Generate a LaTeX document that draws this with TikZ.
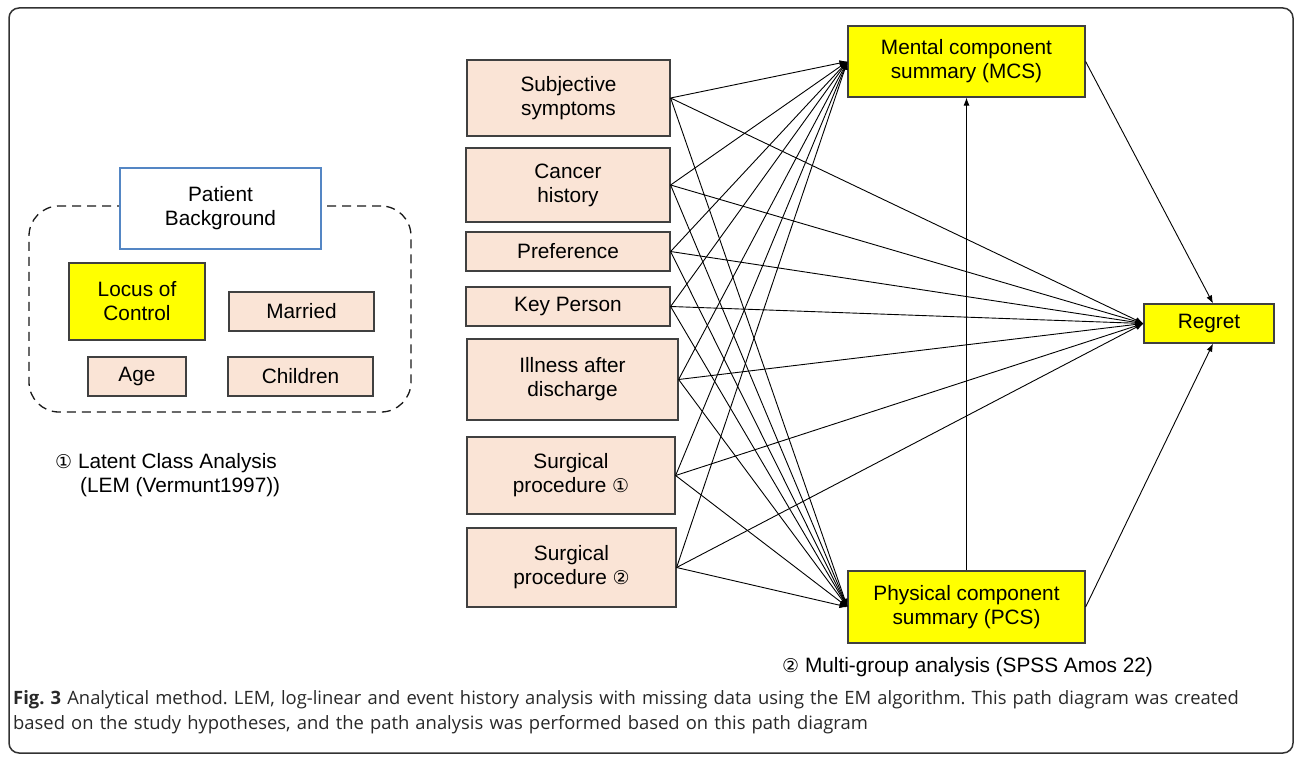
\documentclass[tikz,border=0pt]{standalone}
\usepackage{fontspec}
\setmainfont{Liberation Sans}
\newfontfamily\capfont{Open Sans}
\newfontfamily\symfont{DejaVu Sans}
\usetikzlibrary{arrows.meta}
\definecolor{peach}{RGB}{250,228,214}
\definecolor{yel}{RGB}{255,255,0}
\definecolor{boxline}{RGB}{64,64,64}
\definecolor{pbblue}{RGB}{84,134,196}
\definecolor{framec}{RGB}{50,50,50}
\definecolor{captxt}{RGB}{40,40,40}
\frenchspacing
\begin{document}
\begin{tikzpicture}[x=1pt,y=-1pt,
  every node/.style={font=\fontsize{20.8}{24}\selectfont, inner sep=0pt, align=center},
  src/.style={draw=boxline, fill=peach, line width=1.2pt},
  ybox/.style={draw=boxline, fill=yel, line width=1.2pt},
  link/.style={-{Latex[length=8pt,width=6pt]}, line width=0.9pt}]
\useasboundingbox (0,0) rectangle (1295,757);
% outer frame
\node[draw=framec, line width=1.5pt, rounded corners=10pt, minimum width=1284, minimum height=745] (frame) at (651,380.5) {};
% left group
\node[draw=black!90, dashed, dash pattern=on 9pt off 6pt, line width=1.3pt, rounded corners=30pt, minimum width=382, minimum height=206] (grp) at (220,309) {};
\node[draw=pbblue, fill=white, line width=1.2pt, minimum width=201, minimum height=81] (pb) at (220.5,208.5) {Patient\\Background};
\node[ybox, minimum width=136, minimum height=77] (loc) at (137,301.5) {Locus of\\Control};
\node[src, minimum width=145, minimum height=39] (mar) at (301.5,311.5) {Married};
\node[src, minimum width=98, minimum height=39] (age) at (137,376.5) {Age};
\node[src, minimum width=145, minimum height=39] (chi) at (300.5,376.5) {Children};
\node[anchor=west] (lca1) at (55,463) {{\symfont\fontsize{19}{24}\selectfont ①} Latent Class Analysis};
\node[anchor=west] (lca2) at (80,487) {(LEM (Vermunt1997))};
% sources
\node[src, minimum width=203, minimum height=76] (s1) at (568.5,98) {Subjective\\symptoms};
\node[src, minimum width=204, minimum height=74] (s2) at (568,185) {Cancer\\history};
\node[src, minimum width=204, minimum height=39] (s3) at (568,251.5) {Preference};
\node[src, minimum width=204, minimum height=39] (s4) at (568,306.5) {Key Person};
\node[src, minimum width=211, minimum height=81] (s5) at (572.5,379.5) {Illness after\\discharge};
\node[src, minimum width=208, minimum height=77] (s6) at (571,475.5) {Surgical\\procedure {\symfont\fontsize{19}{24}\selectfont ①}};
\node[src, minimum width=209, minimum height=79] (s7) at (571.5,567.5) {Surgical\\procedure {\symfont\fontsize{19}{24}\selectfont ②}};
% targets
\node[ybox, minimum width=237, minimum height=71] (mcs) at (966.5,61.5) {Mental component\\summary (MCS)};
\node[ybox, minimum width=237, minimum height=72] (pcs) at (966.5,607) {Physical component\\summary (PCS)};
\node[ybox, minimum width=130, minimum height=39] (reg) at (1209,323.5) {Regret};
% connectors
\foreach \s in {s1,s2,s3,s4,s5,s6,s7}{
  \draw[link] (\s.east) -- (mcs.west);
  \draw[link] (\s.east) -- (reg.west);
  \draw[link] (\s.east) -- (pcs.west);
}
\draw[link] (pcs.north) -- (mcs.south);
\draw[link] (mcs.east) -- ([xshift=4pt]reg.north);
\draw[link] (pcs.east) -- ([xshift=4pt]reg.south);
\node[anchor=west] (mga) at (782,667) {{\symfont\fontsize{19}{24}\selectfont ②} Multi-group analysis (SPSS Amos 22)};
% caption
\node[anchor=north west, align=left, text=captxt, font=\capfont\fontsize{18.4}{25.5}\selectfont, text width=1275] (cap) at (13,690)
  {\textbf{Fig. 3} Analytical method. LEM, log-linear and event history analysis with missing data using the EM algorithm. This path diagram was created\\based on the study hypotheses, and the path analysis was performed based on this path diagram};
\end{tikzpicture}
\end{document}
